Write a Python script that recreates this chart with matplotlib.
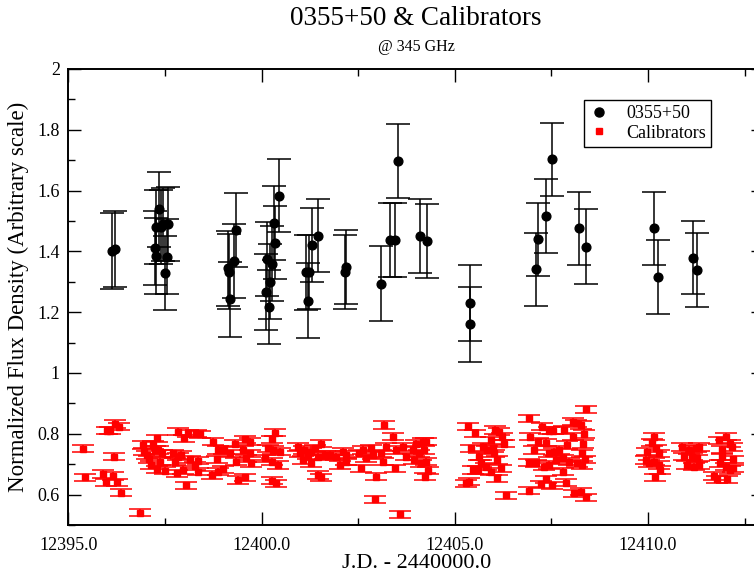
import matplotlib
matplotlib.use("Agg")
import matplotlib.pyplot as plt
from matplotlib.lines import Line2D
from matplotlib.ticker import MultipleLocator, FormatStrFormatter, FuncFormatter

plt.rcParams['font.family'] = ['Liberation Serif', 'DejaVu Serif']

# 0355+50 normalized flux densities (J.D. - 2440000.0)
src_jd = [12396.14, 12396.22,
          12397.35, 12397.28, 12397.39, 12397.45, 12397.59, 12397.24, 12397.27, 12397.56, 12397.49,
          12399.12, 12399.15, 12399.18, 12399.28, 12399.35,
          12400.15, 12400.27, 12400.11, 12400.21, 12400.18, 12400.31, 12400.36, 12400.44,
          12401.16, 12401.24, 12401.20, 12401.30, 12401.47,
          12402.15, 12402.19,
          12403.10, 12403.53, 12403.31, 12403.44, 12404.11, 12404.28,
          12405.40, 12405.38,
          12407.10, 12407.16, 12407.37, 12407.51, 12408.20, 12408.40,
          12410.15, 12410.26, 12411.16, 12411.26]
src_flux = [1.400, 1.408,
            1.538, 1.481, 1.481, 1.490, 1.490, 1.411, 1.385, 1.383, 1.328,
            1.344, 1.333, 1.242, 1.369, 1.470,
            1.374, 1.359, 1.267, 1.300, 1.217, 1.494, 1.429, 1.583,
            1.331, 1.333, 1.238, 1.421, 1.452,
            1.331, 1.350,
            1.294, 1.697, 1.437, 1.437, 1.450, 1.435,
            1.230, 1.160,
            1.341, 1.440, 1.517, 1.703, 1.476, 1.416,
            1.476, 1.317, 1.379, 1.338]
src_err = [0.125, 0.124,
           0.122, 0.122, 0.121, 0.120, 0.122, 0.123, 0.124, 0.123, 0.122,
           0.124, 0.123, 0.122, 0.122, 0.121,
           0.122, 0.123, 0.124, 0.123, 0.122, 0.122, 0.121, 0.120,
           0.123, 0.122, 0.124, 0.122, 0.121,
           0.122, 0.122,
           0.124, 0.121, 0.122, 0.122, 0.122, 0.121,
           0.124, 0.123,
           0.121, 0.120, 0.121, 0.120, 0.121, 0.122,
           0.121, 0.122, 0.120, 0.121]

# calibrator normalized flux densities
cal_jd = [12395.37, 12395.43, 12395.91, 12396.15, 12395.97, 12396.25, 12396.36, 12396.18,
          12395.99, 12396.09, 12396.20, 12396.32, 12396.85, 12396.92, 12396.96, 12397.03,
          12397.09, 12397.15, 12397.20, 12397.30, 12397.24, 12397.32, 12397.42, 12397.36,
          12397.30, 12397.50, 12397.70, 12397.76, 12397.84, 12397.91, 12397.80, 12397.97,
          12397.84, 12397.99, 12398.10, 12398.31, 12398.40, 12398.15, 12398.36, 12398.27,
          12398.36, 12398.05, 12398.74, 12398.84, 12398.73, 12398.88, 12399.00, 12398.88,
          12399.04, 12399.18, 12399.31, 12399.35, 12399.39,
          12399.56, 12399.69, 12399.52, 12399.69, 12399.59, 12399.73, 12399.56, 12400.34,
          12400.26, 12400.16, 12400.30, 12400.47, 12400.08, 12400.26, 12400.42, 12400.26,
          12400.38, 12400.95, 12400.99, 12401.11, 12401.20, 12401.07, 12401.29, 12401.37,
          12401.54, 12401.46, 12401.63, 12401.29, 12401.46, 12401.54, 12401.76, 12401.93,
          12402.02, 12402.10, 12402.19, 12402.19, 12402.53, 12402.62, 12402.71, 12402.57,
          12402.84, 12402.88, 12402.96, 12403.10, 12403.18, 12403.14, 12403.22, 12403.39,
          12403.44, 12403.48, 12403.65, 12403.73, 12402.93, 12403.57,
          12404.00, 12404.17, 12404.26, 12403.91, 12404.08, 12404.21, 12403.95, 12404.13,
          12404.26, 12404.30, 12404.24,
          12405.33, 12405.53, 12405.42, 12405.72, 12405.84, 12405.94, 12406.04, 12406.15,
          12406.23, 12406.28, 12405.98, 12406.02, 12405.63, 12405.68, 12405.59, 12405.46,
          12405.80, 12405.94, 12406.10, 12406.19, 12406.08, 12405.29, 12405.37, 12406.33,
          12406.91, 12406.94, 12407.14, 12407.06, 12407.26, 12407.44, 12407.53, 12407.83,
          12407.36, 12407.44, 12407.57, 12407.70, 12407.91, 12408.05, 12408.13, 12408.05,
          12406.92, 12407.10, 12407.32, 12407.44, 12407.61, 12407.79, 12407.95, 12408.17,
          12407.80, 12407.87, 12407.51, 12407.36, 12407.22, 12406.92, 12408.09,
          12408.40, 12408.26, 12408.34, 12408.32, 12408.29, 12408.37, 12408.30, 12408.26,
          12408.39,
          12410.16, 12410.09, 12410.20, 12409.98, 12409.94, 12410.28, 12410.02, 12410.16,
          12410.28, 12410.32, 12410.18,
          12410.89, 12411.06, 12411.23, 12411.32, 12410.93, 12411.14, 12411.27, 12411.01,
          12411.18, 12411.32,
          12411.83, 12412.01, 12412.13, 12411.91, 12412.17, 12412.21, 12411.87, 12412.01,
          12412.13, 12412.21, 12411.70, 12411.79, 12412.05, 12411.91]
cal_flux = [0.751, 0.657, 0.668, 0.661, 0.640, 0.640, 0.606, 0.725,
            0.810, 0.810, 0.832, 0.823, 0.540, 0.763, 0.741, 0.730,
            0.716, 0.697, 0.763, 0.785, 0.747, 0.747, 0.736, 0.708,
            0.683, 0.679, 0.736, 0.708, 0.725, 0.730, 0.670, 0.681,
            0.807, 0.785, 0.801, 0.801, 0.798, 0.716, 0.711, 0.694,
            0.675, 0.631, 0.774, 0.716, 0.664, 0.675, 0.683, 0.747,
            0.747, 0.736, 0.768, 0.708, 0.648,
            0.782, 0.774, 0.747, 0.736, 0.719, 0.703, 0.657, 0.804,
            0.782, 0.752, 0.747, 0.741, 0.719, 0.708, 0.697, 0.646,
            0.637, 0.757, 0.736, 0.747, 0.730, 0.714, 0.741, 0.752,
            0.768, 0.725, 0.730, 0.703, 0.664, 0.657, 0.730, 0.725,
            0.697, 0.741, 0.730, 0.708, 0.736, 0.747, 0.719, 0.686,
            0.752, 0.730, 0.659, 0.736, 0.829, 0.708, 0.757, 0.790,
            0.686, 0.747, 0.757, 0.725, 0.584, 0.535,
            0.768, 0.774, 0.774, 0.747, 0.736, 0.747, 0.714, 0.703,
            0.708, 0.679, 0.659,
            0.825, 0.801, 0.752, 0.757, 0.747, 0.779, 0.812, 0.807,
            0.790, 0.768, 0.752, 0.736, 0.725, 0.703, 0.681, 0.681,
            0.692, 0.675, 0.714, 0.686, 0.653, 0.637, 0.642, 0.598,
            0.851, 0.790, 0.774, 0.747, 0.823, 0.810, 0.810, 0.812,
            0.771, 0.736, 0.741, 0.747, 0.763, 0.790, 0.834, 0.840,
            0.705, 0.703, 0.692, 0.697, 0.714, 0.719, 0.708, 0.703,
            0.675, 0.639, 0.631, 0.650, 0.634, 0.613, 0.604,
            0.880, 0.829, 0.799, 0.766, 0.736, 0.716, 0.697, 0.609,
            0.591,
            0.790, 0.771, 0.752, 0.741, 0.714, 0.736, 0.703, 0.708,
            0.697, 0.681, 0.657,
            0.757, 0.747, 0.752, 0.757, 0.725, 0.725, 0.719, 0.697,
            0.692, 0.697,
            0.779, 0.790, 0.768, 0.747, 0.757, 0.716, 0.703, 0.692,
            0.681, 0.686, 0.661, 0.650, 0.650, 0.725]
cal_err = 0.012

fig = plt.figure(figsize=(7.54, 5.74), dpi=100)
ax = fig.add_axes([0.0906, 0.0854, 0.9227, 0.7944])

ax.errorbar(src_jd, src_flux, yerr=src_err, fmt='o', color='black', ms=6.3,
            ecolor='black', elinewidth=1.1, capsize=8.5, capthick=1.1, zorder=3)
ax.errorbar(cal_jd, cal_flux, yerr=cal_err, fmt='s', color='red', ms=4.8,
            ecolor='red', elinewidth=1.1, capsize=8, capthick=1.1, zorder=2)

ax.set_xlim(12395.0, 12413.0)
ax.set_ylim(0.5, 2.0)
ax.xaxis.set_major_locator(MultipleLocator(5))
ax.xaxis.set_minor_locator(MultipleLocator(2.5))
ax.yaxis.set_major_locator(MultipleLocator(0.2))
ax.yaxis.set_minor_locator(MultipleLocator(0.1))
ax.xaxis.set_major_formatter(FormatStrFormatter('%.1f'))
ax.yaxis.set_major_formatter(FuncFormatter(lambda v, p: '%g' % round(v, 6)))

ax.tick_params(which='both', direction='in', top=True, right=True, width=1.0,
               labelsize=13, color='black')
ax.tick_params(which='major', length=9.5)
ax.tick_params(which='minor', length=5)
ax.tick_params(axis='x', which='major', pad=9)
ax.tick_params(axis='y', which='major', pad=6)
for s in ax.spines.values():
    s.set_linewidth(1.4)

ax.set_xlabel('J.D. - 2440000.0', fontsize=16, labelpad=0)
ax.set_ylabel('Normalized Flux Density (Arbitrary scale)', fontsize=16.5, labelpad=6)

fig.text(0.552, 0.967, '0355+50 & Calibrators', ha='center', va='center', fontsize=19.5)
fig.text(0.552, 0.918, '@ 345 GHz', ha='center', va='center', fontsize=11.5)

handles = [Line2D([], [], ls='none', marker='o', color='black', ms=6.5),
           Line2D([], [], ls='none', marker='s', color='red', ms=4.3)]
leg = ax.legend(handles, ['0355+50', 'Calibrators'], loc='upper right',
                bbox_to_anchor=(0.924, 0.933), fontsize=13,
                frameon=True, fancybox=False, edgecolor='black', framealpha=1,
                borderpad=0.3, handletextpad=1.0, labelspacing=0.15,
                handlelength=1.0, borderaxespad=0)
leg.get_frame().set_linewidth(1.0)

fig.savefig('out.png', dpi=100)
